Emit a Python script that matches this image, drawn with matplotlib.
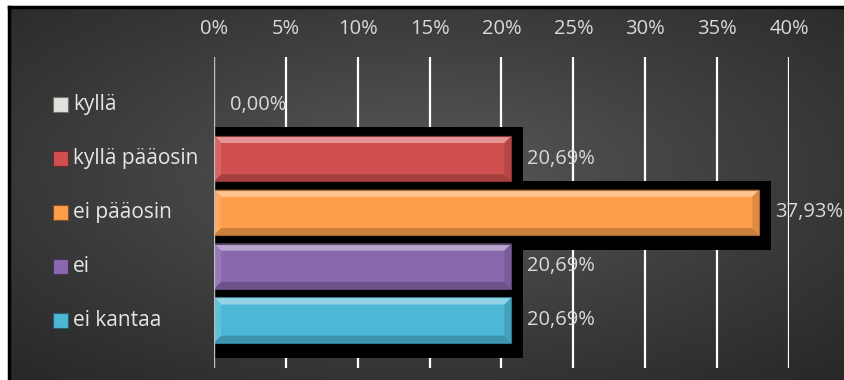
import numpy as np
import matplotlib.pyplot as plt
import matplotlib.transforms as mtransforms
from matplotlib.patches import Rectangle, Polygon
from matplotlib.colors import to_rgb

plt.rcParams['font.family'] = ['Open Sans', 'DejaVu Sans']

categories = ['kyllä', 'kyllä pääosin', 'ei pääosin', 'ei', 'ei kantaa']
values = [0.00, 20.69, 37.93, 20.69, 20.69]
value_labels = ['0,00%', '20,69%', '37,93%', '20,69%', '20,69%']
tick_values = [0, 5, 10, 15, 20, 25, 30, 35, 40]
tick_labels = ['0%', '5%', '10%', '15%', '20%', '25%', '30%', '35%', '40%']
colors = ['#E2E2DC', '#D0504F', '#FF9E4A', '#8A68AE', '#4CB8D6']

W, H = 845, 380
fig = plt.figure(figsize=(W / 100, H / 100), dpi=100, facecolor='white')


def mix(c, other, t):
    c = np.array(to_rgb(c))
    return tuple(c * (1 - t) + np.array(other) * t)


# dark panel with a radial gradient
bg = fig.add_axes([9 / W, 0, 1 - 9 / W, 1 - 7 / H])
bg.set_axis_off()
yy, xx = np.mgrid[-1:1:300j, -1:1:600j]
r = np.clip(np.sqrt(xx ** 2 + (yy + 0.1) ** 2) / np.sqrt(2), 0, 1)
shade = 0x5c / 255 - (0x5c - 0x29) / 255 * r ** 0.85
bg.imshow(np.dstack([shade] * 3), aspect='auto', extent=[-0.01, 1.01, -0.01, 1.01],
          interpolation='bilinear')
bg.set_xlim(0, 1)
bg.set_ylim(0, 1)
bg.plot([0, 0], [0, 1], color='black', lw=2.5, transform=bg.transAxes, clip_on=False)
bg.plot([0, 1], [1, 1], color='black', lw=2.5, transform=bg.transAxes, clip_on=False)

ax = fig.add_axes([214 / W, 1 - 368 / H, (789 - 214) / W, (368 - 57) / H])
ax.patch.set_alpha(0)
ax.set_xlim(0, 40)
ax.set_ylim(4.89, -0.887)

px_x = 40 / (789 - 214)
px_y = 5.777 / (368 - 57)

for t in tick_values[1:]:
    ax.axvline(t, color='white', lw=1.6, zorder=1)
ax.axvline(0, color='#bfbfbf', lw=1.0, zorder=5)

bh = 0.84
bx, by = 7 * px_x, 7 * px_y
for i, (v, c) in enumerate(zip(values, colors)):
    top, bot = i - bh / 2, i + bh / 2
    if v > 0:
        # black shadow behind the bar
        ax.add_patch(Rectangle((0, top - 9 * px_y), v + 12 * px_x, bh + 24 * px_y,
                               facecolor='black', edgecolor='none', zorder=2))
        ax.add_patch(Rectangle((0, top), v, bh, facecolor=c, edgecolor='none', zorder=3))
        # bevelled edges
        ax.add_patch(Polygon([(0, top), (v, top), (v - bx, top + by), (bx, top + by)],
                             facecolor=mix(c, (1, 1, 1), 0.4), edgecolor='none', zorder=4))
        ax.add_patch(Polygon([(0, bot), (v, bot), (v - bx, bot - by), (bx, bot - by)],
                             facecolor=mix(c, (0, 0, 0), 0.2), edgecolor='none', zorder=4))
        ax.add_patch(Polygon([(0, top), (bx, top + by), (bx, bot - by), (0, bot)],
                             facecolor=mix(c, (1, 1, 1), 0.12), edgecolor='none', zorder=4))
        ax.add_patch(Polygon([(v, top), (v - bx, top + by), (v - bx, bot - by), (v, bot)],
                             facecolor=mix(c, (0, 0, 0), 0.12), edgecolor='none', zorder=4))
        ax.add_patch(Rectangle((0, top), v, bh, facecolor='none',
                               edgecolor=mix(c, (0, 0, 0), 0.35), lw=0.8, zorder=4))
    ax.text(v + 16 * px_x, i, value_labels[i], color='#d9d9d9', fontsize=14.5,
            ha='left', va='center', zorder=6, clip_on=False)

# category labels with small colour keys
trans = mtransforms.blended_transform_factory(fig.transFigure, ax.transData)
for i, (cat, c) in enumerate(zip(categories, colors)):
    ax.add_patch(Rectangle((53 / W, i - 7.5 * px_y), 15 / W, 15 * px_y, transform=trans,
                           facecolor=c, edgecolor=mix(c, (0, 0, 0), 0.5), lw=0.8,
                           clip_on=False, zorder=6))
    ax.text(73 / W, i, cat, transform=trans, color='#e6e6e6', fontsize=15,
            ha='left', va='center', clip_on=False)

ax.xaxis.tick_top()
ax.set_xticks(tick_values)
ax.set_xticklabels(tick_labels, color='#d9d9d9', fontsize=14.5)
ax.tick_params(axis='x', length=0, pad=13)
ax.set_yticks([])
for s in ax.spines.values():
    s.set_visible(False)

fig.savefig('out.png', dpi=100, facecolor='white')
